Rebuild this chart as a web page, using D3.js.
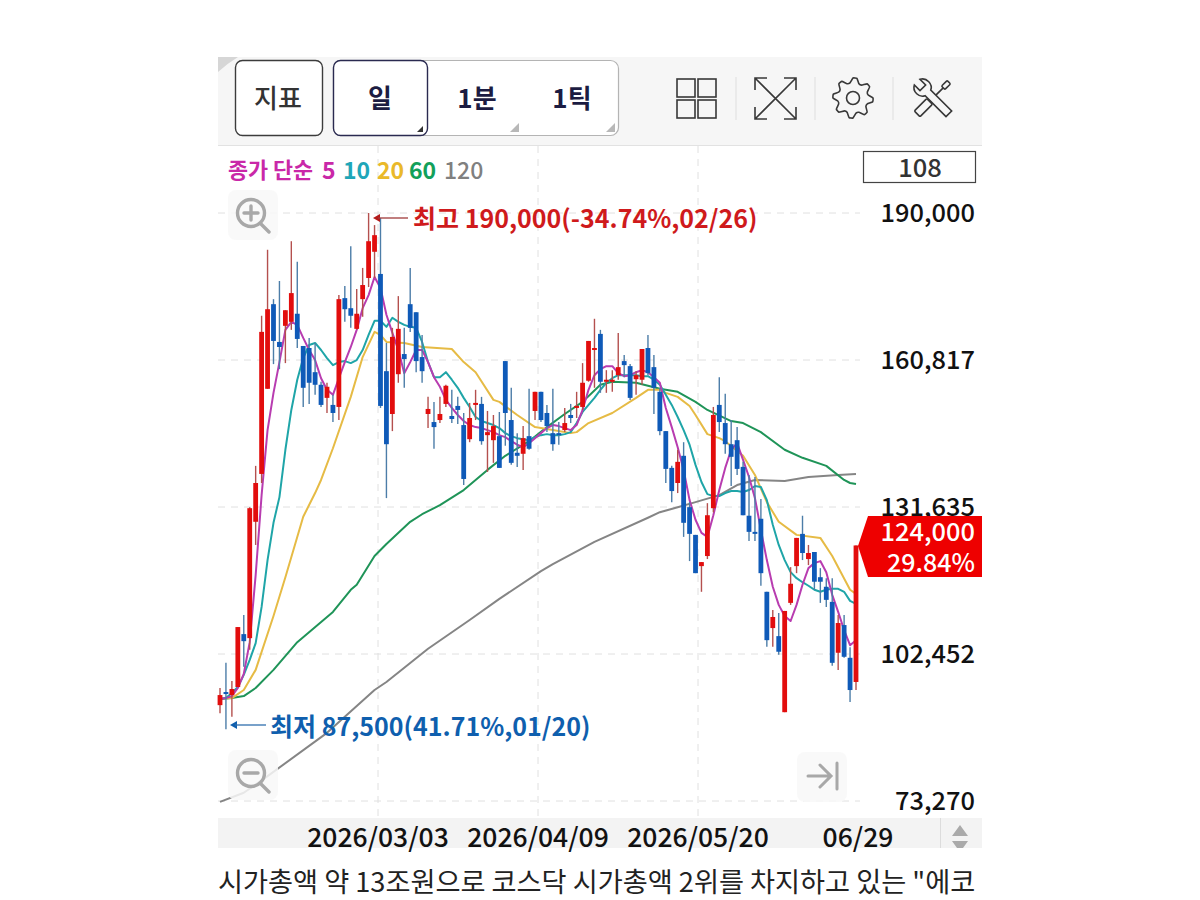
<html>
  <head>
    <meta charset="UTF-8" />
    <script src="https://cdnjs.cloudflare.com/ajax/libs/d3/7.8.5/d3.min.js"></script>
    <style>
      body { margin: 0; background: #fff; }
      text { font-family: "Noto Sans CJK KR", "Noto Sans", sans-serif; }
    </style>
  </head>
  <body>
    <svg id="viz" width="1200" height="900"></svg>
    <script>
      const opens = [92300,94900,94300,95900,106400,105600,128700,138200,155100,171900,164400,167600,168400,170000,163600,163200,158400,155900,153300,151900,151500,173100,171100,167000,172900,177100,182300,177900,158600,150100,158000,162000,171900,170300,161400,150100,148500,148900,152100,149700,151700,147900,145100,151900,152100,145900,144900,145700,160600,148900,142400,142200,145700,150700,154500,150300,146300,146300,146900,149900,151300,151500,156700,162800,166000,156500,156500,157800,160600,159600,157000,156900,163200,159400,154500,146700,139400,136400,141800,131600,126100,119900,121900,131400,151900,148300,144100,144900,139600,129900,126700,129300,114800,107600,106000,90900,112600,119900,126300,121300,122700,117700,115800,112800,102700,108200,101700,96900];
      const highs = [95700,100700,97100,107800,110200,131600,139800,169600,182700,172900,176500,170700,184400,180300,163600,165200,164200,156500,156300,153900,173700,175500,183400,174900,179100,190000,187600,189000,164200,167200,173500,167200,179100,170300,165800,153500,152500,153500,155900,154900,153500,150300,152300,154900,153500,150700,149900,150500,160600,155300,146300,147700,155100,154500,154500,151900,155100,148500,151300,152100,154500,160200,164600,169000,166800,158800,158800,166200,161800,160000,158600,163000,165800,161800,155300,146700,139800,143000,144500,132600,126100,120700,132400,151500,157400,154100,148900,147500,140600,138000,137600,133200,114800,111200,110600,111000,119700,125500,129900,124100,122700,119500,117500,117500,110200,110200,103800,124000];
      const lows = [90700,87500,90000,95900,99900,103300,124100,136400,155100,160000,159000,160200,166800,163200,151500,152100,153900,151500,150300,148500,148900,168400,167200,166800,169400,175300,177100,151300,133400,146700,156300,155300,166400,158400,156300,147300,143200,148300,151500,148300,148100,136000,144500,148900,144000,138600,140400,139400,143800,140000,139600,139000,143000,148900,148500,146500,142800,144000,146500,148300,149300,150900,156500,155300,154300,154300,154500,156900,157400,152900,153900,155900,157800,150100,145900,136400,132600,134400,125700,120900,118500,114800,121300,130600,146500,142200,135800,138000,130000,124900,124900,116000,103900,103900,102300,90900,112200,118500,121100,120100,115200,112600,111800,100100,99300,101700,92900,95300];
      const closes = [94300,94700,95500,107800,105000,131400,136400,166400,170900,164600,163400,170700,174100,165000,155300,156300,155900,151900,155500,150300,172900,170900,169600,170000,175700,184400,185600,151700,144100,165400,167000,161000,167200,160600,158600,151100,147500,150100,155700,149100,150900,137200,149300,152300,144700,146500,147700,139400,150300,140400,141800,145300,143200,154500,148900,147700,144100,145900,148300,149300,151700,156300,164600,163200,156500,156900,156900,159400,159800,153300,157800,163000,158200,155300,146700,139200,134800,140600,128500,126300,118500,120700,130000,149900,148500,144100,141600,139200,130000,126700,126300,118500,105200,109800,102900,111000,116400,125500,122500,122500,116800,116800,113200,100700,108600,101900,95300,124000];

      const ma5 = [93500,93700,94100,95700,98500,104800,118100,134000,146900,154300,160400,166800,168400,167800,165200,162800,160800,157200,154900,153900,157200,160400,163400,166800,171100,173700,177300,175100,169800,166200,162800,158200,160400,162800,162800,160400,157400,155500,152900,151300,149900,148700,147900,147500,147300,146900,146500,145900,145500,144700,144000,143500,144300,145300,146300,147300,147900,147700,147300,146900,147900,150900,154900,157800,159000,159600,159600,158200,157600,157800,158400,158800,158400,157400,156300,151300,147500,143500,139000,133000,129100,126500,125700,130000,135000,139400,143000,144300,141000,137600,133400,127100,121100,115800,112200,110000,109000,112200,116200,119500,120500,120900,118700,114200,110800,107200,104200,105200];
      const ma10 = [93500,93700,94700,95900,98300,101300,104600,111800,121100,128500,133600,143000,150900,156900,161200,163800,164200,162800,161200,159800,160400,160600,160200,160800,162800,165800,168600,168600,167400,169200,168400,167800,167400,167200,164400,160400,157400,157400,158400,156900,155300,153300,151500,149500,148700,148300,147900,147300,146300,145700,145300,145100,144900,145500,145900,146100,145900,145900,146100,146500,148300,150500,151900,153300,154900,156300,157200,157800,157800,157800,157800,157600,157600,156900,155900,153900,151900,149500,146900,144000,140000,136600,134200,133800,133800,134400,134800,134800,134600,135000,135800,135600,133000,128100,124100,121100,118700,117500,116700,116000,115200,114800,115200,115400,115400,114800,113000,112400];

      const ma20Days = [0,2,4,6,9,11,14,16,17,19,22,24,26,27,28,31,34,39,41,43,46,47,50,53,56,59,60,62,66,70,72,74,75,77,79,80,82,84,85,88,90,92,94,97,101,103,106,107];
      const ma20 = [93500,93700,95300,99300,110000,117700,129700,134400,137000,143300,153500,161400,166400,165800,164400,164200,163400,163000,160400,158400,152900,152500,149900,147500,146900,146300,146500,148300,150300,153300,154900,154900,154300,153500,151700,149900,146100,145300,144700,141800,138000,132600,128700,126100,125500,121900,115200,114400];
      const ma60Days = [0,2,4,6,9,13,19,22,23,26,28,32,34,37,41,45,48,52,55,58,61,64,66,70,74,77,80,82,86,88,91,95,98,102,105,106,107];
      const ma60 = [93500,93700,94100,95700,99300,104800,110800,115200,116200,121900,124300,128700,130200,132000,135000,139000,141800,144700,147500,150100,152500,155900,156500,156300,155100,154500,152500,150900,148700,148300,146500,143000,141400,139800,137000,136400,136200];
      const ma120Days = [0,4,8,18,26,28,35,42,47,54,56,63,72,74,77,80,84,87,90,95,99,104,107];
      const ma120 = [73100,74900,78200,86800,95300,96900,103500,109200,113400,118900,120300,124700,129500,130600,131600,132600,134000,136000,137000,136800,137600,138000,138200];

      const priceTicks = [190000,160817,131635,102452,73270];
      const dateLabels = ["2026/03/03","2026/04/09","2026/05/20","06/29"];
      const legendNames = ["5","10","20","60","120"];
      const legendColors = ["#c928a8","#1fa6b8","#eab92a","#12a05a","#808080"];
      const maColors = ["#b83cb0","#1fa5a8","#e6bb45","#1f9458","#858585"];

      const x = d3.scaleLinear().domain([0, opens.length - 1]).range([220, 856]);
      const y = d3.scaleLinear().domain([73270, 190000]).range([801, 213]);
      const xGrid = d3.scaleLinear().domain([0, 4]).range([218, 858]);

      const RED = "#e20d0d", BLUE = "#0f5ab8";
      const svg = d3.select("#viz");

      // toolbar
      svg.append("rect").attr("x", 218).attr("y", 57).attr("width", 764).attr("height", 88).attr("fill", "#f6f6f6");
      svg.append("line").attr("x1", 218).attr("x2", 982).attr("y1", 145.5).attr("y2", 145.5).attr("stroke", "#e2e2e2");
      svg.append("path").attr("d", "M218,57 L238,57 Q228,63 218,72 Z").attr("fill", "#d6d6d6");

      svg.append("rect").attr("x", 235.5).attr("y", 60.5).attr("width", 87).attr("height", 75).attr("rx", 7)
        .attr("fill", "#fff").attr("stroke", "#3c3c3c").attr("stroke-width", 1.4);
      svg.append("rect").attr("x", 333.5).attr("y", 60.5).attr("width", 285).attr("height", 75).attr("rx", 8)
        .attr("fill", "#fff").attr("stroke", "#b4b4b4").attr("stroke-width", 1.2);
      svg.append("rect").attr("x", 333.5).attr("y", 60.5).attr("width", 94).attr("height", 75).attr("rx", 7)
        .attr("fill", "#fff").attr("stroke", "#2a2a50").attr("stroke-width", 1.4);

      svg.selectAll(".btn")
        .data([["지표", 278, "#333", 500], ["일", 380, "#1c1c42", 700], ["1분", 477, "#1c1c42", 700], ["1틱", 572, "#1c1c42", 700]])
        .enter()
        .append("text")
        .attr("class", "btn")
        .attr("x", d => d[1])
        .attr("y", 108)
        .attr("text-anchor", "middle")
        .attr("font-size", 26)
        .attr("font-weight", d => d[3])
        .attr("fill", d => d[2])
        .text(d => d[0]);

      svg.selectAll(".corner")
        .data([[423, 132, 6, "#333"], [519, 132, 9, "#b8b8b8"], [615, 132, 9, "#b8b8b8"]])
        .enter()
        .append("path")
        .attr("class", "corner")
        .attr("d", d => `M${d[0]},${d[1]} L${d[0] - d[2]},${d[1]} L${d[0]},${d[1] - d[2]} Z`)
        .attr("fill", d => d[3]);

      // toolbar icons
      const icons = svg.append("g").attr("fill", "none").attr("stroke", "#383838").attr("stroke-width", 1.6);
      [[677, 79], [698, 79], [677, 100], [698, 100]].forEach(p => {
        icons.append("rect").attr("x", p[0]).attr("y", p[1]).attr("width", 18).attr("height", 18);
      });
      [736, 815, 893].forEach(px => {
        svg.append("line").attr("x1", px).attr("x2", px).attr("y1", 77).attr("y2", 120).attr("stroke", "#dedede");
      });
      icons.append("path").attr("d", "M755,78 L796,119 M796,78 L755,119 M755,90 L755,78 L767,78 M784,78 L796,78 L796,90 M755,107 L755,119 L767,119 M784,119 L796,119 L796,107");

      const gearPts = d3.range(0, 32).map(k => {
        const phase = k % 4;
        return [k * Math.PI / 16, phase === 0 || phase === 1 ? 20 : 15.5];
      });
      icons.append("path")
        .attr("transform", "translate(853,98)")
        .attr("d", d3.lineRadial().curve(d3.curveCardinalClosed.tension(0.6))(gearPts));
      icons.append("circle").attr("cx", 853).attr("cy", 98).attr("r", 6.5);

      const tools = icons.append("g").attr("transform", "translate(933,98) scale(0.8)").attr("stroke-width", 2);
      const drv = tools.append("g").attr("transform", "rotate(45)");
      drv.append("rect").attr("x", -5).attr("y", 6).attr("width", 10).attr("height", 22).attr("rx", 1.5);
      drv.append("line").attr("x1", 0).attr("x2", 0).attr("y1", 6).attr("y2", -18);
      drv.append("rect").attr("x", -3).attr("y", -28).attr("width", 6).attr("height", 10).attr("rx", 1.5);
      tools.append("g").attr("transform", "rotate(-45)")
        .append("path")
        .attr("fill", "#f6f6f6")
        .attr("d", "M-5,28 L-5,-9 C-12,-12 -13,-24 -5,-28 L-5,-18 L5,-18 L5,-28 C13,-24 12,-12 5,-9 L5,28 Z");

      // grid
      svg.selectAll(".hgrid")
        .data(priceTicks)
        .enter()
        .append("line")
        .attr("class", "hgrid")
        .attr("x1", 218)
        .attr("x2", 860)
        .attr("y1", d => y(d))
        .attr("y2", d => y(d))
        .attr("stroke", "#e0e0e0")
        .attr("stroke-dasharray", "7 6");

      svg.selectAll(".vgrid")
        .data([1, 2, 3])
        .enter()
        .append("line")
        .attr("class", "vgrid")
        .attr("x1", d => xGrid(d))
        .attr("x2", d => xGrid(d))
        .attr("y1", 146)
        .attr("y2", 818)
        .attr("stroke", "#e0e0e0")
        .attr("stroke-dasharray", "7 6");

      // legend
      svg.append("text").attr("x", 228).attr("y", 178).attr("font-size", 21.8).attr("font-weight", 700)
        .attr("fill", "#c928a8").text("종가 단순");
      svg.selectAll(".leg")
        .data(legendNames)
        .enter()
        .append("text")
        .attr("class", "leg")
        .attr("x", (d, i) => [322, 343, 377, 409, 444][i])
        .attr("y", 179)
        .attr("font-size", 23)
        .attr("font-weight", (d, i) => (i === 4 ? 500 : 700))
        .attr("fill", (d, i) => legendColors[i])
        .text(d => d);

      svg.append("rect").attr("x", 863.5).attr("y", 151.5).attr("width", 112).attr("height", 31)
        .attr("fill", "#fff").attr("stroke", "#444").attr("stroke-width", 1.2);
      svg.append("text").attr("x", 920).attr("y", 176.5).attr("text-anchor", "middle").attr("font-size", 25.5)
        .attr("font-weight", 500).attr("fill", "#333").text(opens.length);

      // moving averages, under the candles
      const line = d3.line().x(d => x(d[0])).y(d => y(d[1]));
      const maSeries = [
        ma5.map((v, i) => [i, v]),
        ma10.map((v, i) => [i, v]),
        ma20.map((v, i) => [ma20Days[i], v]),
        ma60.map((v, i) => [ma60Days[i], v]),
        ma120.map((v, i) => [ma120Days[i], v])
      ];
      svg.selectAll(".ma")
        .data([4, 3, 2, 1, 0])
        .enter()
        .append("path")
        .attr("class", "ma")
        .attr("d", k => line(maSeries[k]))
        .attr("fill", "none")
        .attr("stroke", k => maColors[k])
        .attr("stroke-width", 2)
        .attr("stroke-linejoin", "round");

      // candles
      const candle = svg.selectAll(".candle")
        .data(opens.map((o, i) => ({ i, o, h: highs[i], l: lows[i], c: closes[i] })))
        .enter()
        .append("g")
        .attr("class", "candle");
      candle.append("line")
        .attr("x1", d => x(d.i))
        .attr("x2", d => x(d.i))
        .attr("y1", d => y(d.h))
        .attr("y2", d => y(d.l))
        .attr("stroke", d => (d.c >= d.o ? "#b4504e" : "#4c7da8"))
        .attr("stroke-width", 1.4);
      candle.append("rect")
        .attr("x", d => x(d.i) - 2.4)
        .attr("width", 4.8)
        .attr("y", d => y(Math.max(d.o, d.c)))
        .attr("height", d => Math.max(2, Math.abs(y(d.o) - y(d.c))))
        .attr("fill", d => (d.c >= d.o ? RED : BLUE));

      // high / low callouts
      const hiColor = "#cf1a1c", loColor = "#0f5fae";
      svg.append("path").attr("d", "M373,218 L380,214 L380,222 Z").attr("fill", "#b41a1a");
      svg.append("line").attr("x1", 378).attr("x2", 408).attr("y1", 218).attr("y2", 218).attr("stroke", "#a03a3a").attr("stroke-width", 1.3);
      svg.append("text").attr("x", 413).attr("y", 228).attr("font-size", 25).attr("font-weight", 700).attr("fill", hiColor)
        .text("최고 190,000(-34.74%,02/26)");
      svg.append("path").attr("d", "M230,725 L237,721 L237,729 Z").attr("fill", loColor);
      svg.append("line").attr("x1", 235).attr("x2", 266).attr("y1", 725).attr("y2", 725).attr("stroke", "#2f6fae").attr("stroke-width", 1.3);
      svg.append("text").attr("x", 270).attr("y", 736).attr("font-size", 25).attr("font-weight", 700).attr("fill", loColor)
        .text("최저 87,500(41.71%,01/20)");

      // zoom + end buttons
      [[228, 190], [228, 750], [797, 752]].forEach(p => {
        svg.append("rect").attr("x", p[0]).attr("y", p[1]).attr("width", 50).attr("height", 50).attr("rx", 8).attr("fill", "#f8f8f8").attr("opacity", 0.85);
      });
      const ico = svg.append("g").attr("fill", "none").attr("stroke", "#a8a8a8").attr("stroke-width", 3.4).attr("stroke-linecap", "round");
      ico.append("circle").attr("cx", 251).attr("cy", 213).attr("r", 13.5);
      ico.append("path").attr("d", "M261,224 L269,232 M244,213 L258,213 M251,206 L251,220");
      ico.append("circle").attr("cx", 251).attr("cy", 773).attr("r", 13.5);
      ico.append("path").attr("d", "M261,784 L269,792 M244,773 L258,773");
      ico.append("path").attr("stroke-width", 3).attr("d", "M808,776 L830,776 M820,765 L831,776 L820,787 M837,763 L837,789");

      // price axis
      svg.selectAll(".ptick")
        .data(priceTicks)
        .enter()
        .append("text")
        .attr("class", "ptick")
        .attr("x", 975)
        .attr("y", d => y(d) + 9)
        .attr("text-anchor", "end")
        .attr("font-size", 25.4)
        .attr("font-weight", 500)
        .attr("fill", "#111")
        .text(d => d3.format(",")(d));

      svg.append("path").attr("d", "M858,546 L868,516 L982,516 L982,577 L868,577 Z").attr("fill", "#ee0000");
      svg.append("text").attr("x", 975).attr("y", 541).attr("text-anchor", "end").attr("font-size", 25.4).attr("font-weight", 500)
        .attr("fill", "#fff").text(d3.format(",")(closes[closes.length - 1]));
      svg.append("text").attr("x", 975).attr("y", 572).attr("text-anchor", "end").attr("font-size", 25).attr("font-weight", 500)
        .attr("fill", "#fff").text("29.84%");

      // date strip
      svg.append("rect").attr("x", 218).attr("y", 818).attr("width", 764).attr("height", 30).attr("fill", "#f3f3f3");
      svg.append("line").attr("x1", 940.5).attr("x2", 940.5).attr("y1", 818).attr("y2", 848).attr("stroke", "#dcdcdc");
      svg.append("path").attr("d", "M960,825 L968,836 L952,836 Z M952,841 L968,841 L963,848 L957,848 Z").attr("fill", "#aaa");
      svg.selectAll(".dtick")
        .data(dateLabels)
        .enter()
        .append("text")
        .attr("class", "dtick")
        .attr("x", (d, i) => xGrid(i + 1))
        .attr("y", 847)
        .attr("text-anchor", "middle")
        .attr("font-size", 26.5)
        .attr("font-weight", 500)
        .attr("fill", "#111")
        .text(d => d);

      // caption below the chart
      svg.append("text").attr("x", 218).attr("y", 892).attr("font-size", 27.2).attr("fill", "#222")
        .text('시가총액 약 13조원으로 코스닥 시가총액 2위를 차지하고 있는 "에코');
    </script>
  </body>
</html>
